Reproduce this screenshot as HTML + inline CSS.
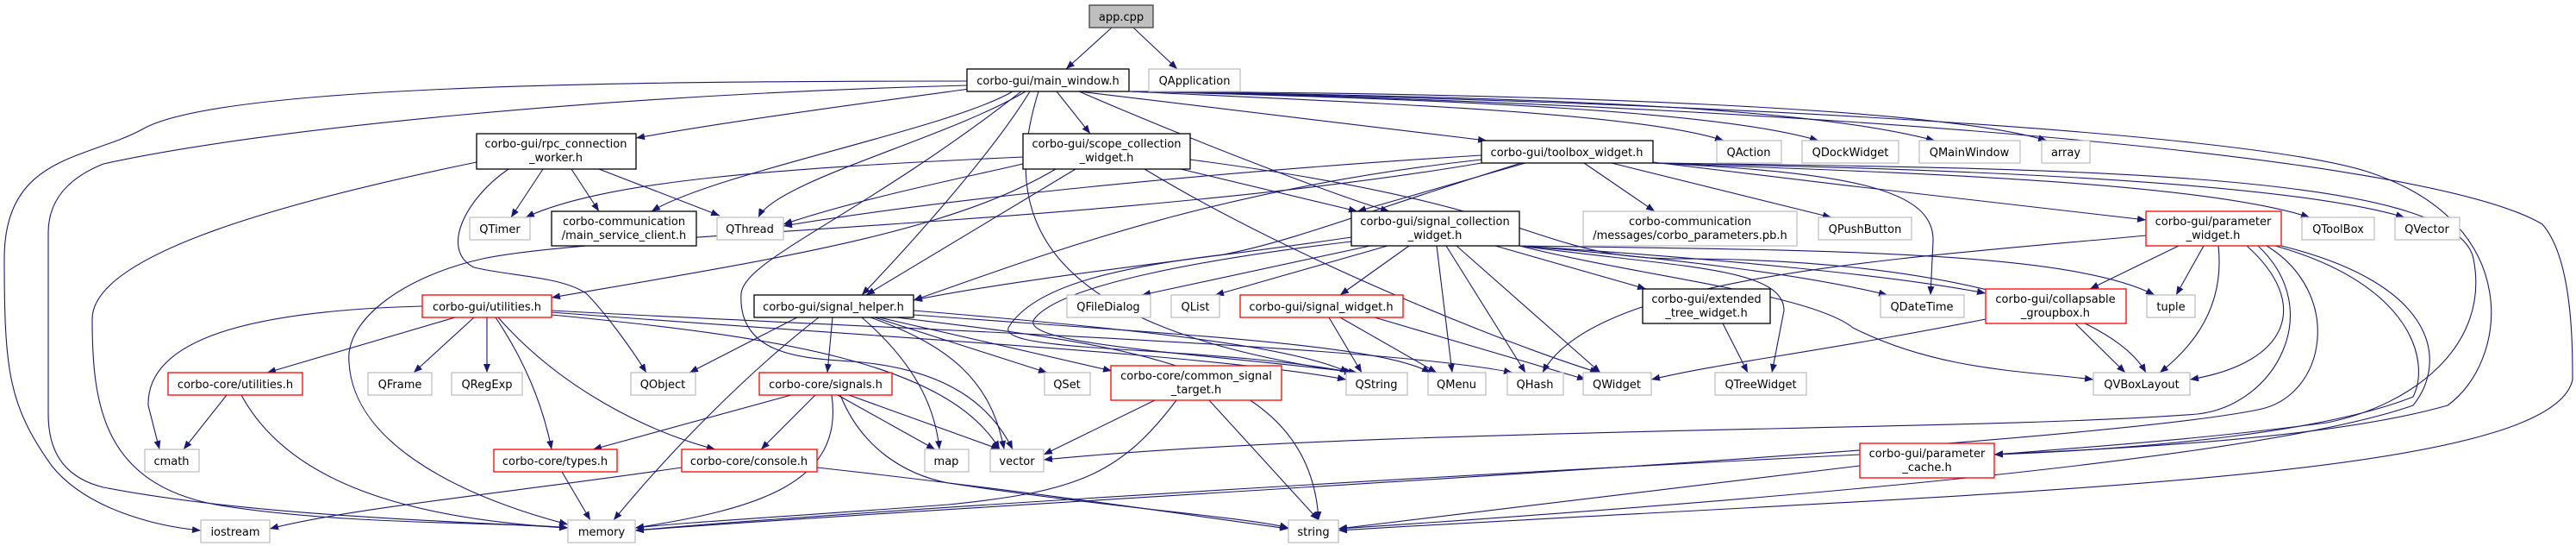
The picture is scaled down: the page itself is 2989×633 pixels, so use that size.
<!DOCTYPE html>
<html><head><meta charset="utf-8"><style>
html,body{margin:0;padding:0;background:#fff;}
svg{display:block;}
text{font-family:"DejaVu Sans","Liberation Sans",sans-serif;font-size:13px;fill:#000;text-anchor:middle;}
.e{fill:none;stroke:#191970;stroke-width:1.1;marker-end:url(#a);}
.g{fill:#fff;stroke:#bfbfbf;stroke-width:1.3;}
.b{fill:#fff;stroke:#000;stroke-width:1.3;}
.r{fill:#fff;stroke:#ff0000;stroke-width:1.3;}
</style></head><body>
<svg width="2989" height="633" viewBox="0 0 2989 633" xmlns="http://www.w3.org/2000/svg">
<defs><marker id="a" markerUnits="userSpaceOnUse" markerWidth="11" markerHeight="8" refX="10" refY="4" orient="auto"><path d="M0,0 L10,4 L0,8 z" fill="#191970"/></marker></defs>
<g>
<path class="e" d="M1290,32 L1237,80"/>
<path class="e" d="M1315,32 L1366,80"/>
<path class="e" d="M1125,103 C1000,120 850,140 738,160"/>
<path class="e" d="M1226,106 L1265,155"/>
<path class="e" d="M1252,106 L1725,163"/>
<path class="e" d="M1252,106 C1400,170 1560,230 1612,245"/>
<path class="e" d="M1195,106 C1150,180 1050,290 1000,342"/>
<path class="e" d="M1175,106 C1100,150 830,200 756,245"/>
<path class="e" d="M1190,106 C1100,160 900,210 880,252"/>
<path class="e" d="M1205,106 C1160,250 1200,380 1570,432"/>
<path class="e" d="M1185,106 C1000,250 865,300 860,340 C855,420 950,415 1000,420 C1100,430 1150,470 1175,521"/>
<path class="e" d="M1122,94 C700,94 250,100 165,150 C100,185 5,180 5,300 C5,430 10,470 60,540 C100,590 180,610 233,615"/>
<path class="e" d="M1122,99 C700,110 300,150 120,190 C70,210 56,240 56,270 L56,480 C56,530 80,555 120,565 C300,600 560,605 659,612"/>
<path class="e" d="M1310,106 C1600,120 1900,130 2000,163"/>
<path class="e" d="M1310,106 C1700,115 2000,130 2110,163"/>
<path class="e" d="M1310,106 C1800,112 2100,125 2245,163"/>
<path class="e" d="M1310,106 C1800,108 2250,125 2375,163"/>
<path class="e" d="M1310,106 C1900,115 2600,150 2750,200 C2930,260 2910,420 2840,470 C2700,510 2450,520 2314,527"/>
<path class="e" d="M1310,106 C1950,118 2800,170 2950,260 C2985,300 2985,400 2985,440 C2960,560 2300,570 1553,615"/>
<path class="e" d="M630,196 L593,252"/>
<path class="e" d="M663,196 L695,245"/>
<path class="e" d="M695,196 L835,250"/>
<path class="e" d="M590,196 C540,230 510,290 550,310 C590,320 650,320 680,340 C700,360 730,400 750,432"/>
<path class="e" d="M553,188 C300,240 107,300 107,370 C107,470 120,560 250,585 C400,610 600,605 659,612"/>
<path class="e" d="M1187,182 C900,195 700,210 610,252"/>
<path class="e" d="M1187,190 C1100,210 1000,230 909,260"/>
<path class="e" d="M1248,196 L1005,342"/>
<path class="e" d="M1225,196 C1100,270 900,300 640,345"/>
<path class="e" d="M1370,196 L1575,245"/>
<path class="e" d="M1328,196 C1500,300 1750,400 1855,432"/>
<path class="e" d="M1381,185 C1800,240 1780,300 1950,300 C2250,300 2450,360 2490,432"/>
<path class="e" d="M1838,189 L1920,245"/>
<path class="e" d="M1870,189 L2125,252"/>
<path class="e" d="M1918,188 C2100,210 2350,240 2490,255"/>
<path class="e" d="M1918,189 C2200,200 2550,210 2680,252"/>
<path class="e" d="M1918,189 C2250,195 2650,210 2790,252"/>
<path class="e" d="M1719,180 C1400,200 1100,230 909,262"/>
<path class="e" d="M1719,185 C1400,220 1200,300 1060,348"/>
<path class="e" d="M1770,189 L1575,245"/>
<path class="e" d="M1918,189 C2150,200 2245,220 2243,280 L2240,342"/>
<path class="e" d="M1765,189 C1600,240 1500,280 1420,295 C1300,310 1200,330 1170,380 C1160,410 1400,400 1570,432"/>
<path class="e" d="M1918,189 C2400,195 2850,200 2870,300 C2890,400 2800,470 2700,490 C2550,510 2400,520 2314,527"/>
<path class="e" d="M1719,189 C1300,260 700,270 560,300 C470,320 400,370 405,420 C410,520 550,580 659,608"/>
<path class="e" d="M1568,275 C1400,300 1200,320 1060,348"/>
<path class="e" d="M1590,285 L1325,342"/>
<path class="e" d="M1610,285 L1410,342"/>
<path class="e" d="M1635,285 L1555,342"/>
<path class="e" d="M1735,285 L1910,335"/>
<path class="e" d="M1568,280 C1400,300 1230,330 1200,370 C1180,400 1400,410 1575,432"/>
<path class="e" d="M1667,285 L1685,432"/>
<path class="e" d="M1678,285 L1770,432"/>
<path class="e" d="M1690,285 L1857,432"/>
<path class="e" d="M1763,285 C1950,300 2100,320 2190,342"/>
<path class="e" d="M1763,285 C2000,300 2200,320 2304,340"/>
<path class="e" d="M1763,285 C2100,290 2400,290 2500,342"/>
<path class="e" d="M1763,285 C1950,310 2070,310 2070,360 L2056,432"/>
<path class="e" d="M1763,285 C1900,320 2100,340 2150,380 C2250,430 2350,430 2429,440"/>
<path class="e" d="M925,368 L800,432"/>
<path class="e" d="M966,368 L960,432"/>
<path class="e" d="M950,368 C870,430 780,520 712,603"/>
<path class="e" d="M1000,368 C1060,420 1085,470 1090,521"/>
<path class="e" d="M1010,368 C1100,400 1150,440 1165,521"/>
<path class="e" d="M1015,368 L1215,432"/>
<path class="e" d="M1020,368 L1290,430"/>
<path class="e" d="M1060,360 C1300,380 1500,400 1565,432"/>
<path class="e" d="M1060,365 C1400,390 1600,400 1660,432"/>
<path class="e" d="M1040,368 C1300,400 1520,420 1530,603"/>
<path class="e" d="M490,355 C300,360 170,390 172,470 L185,521"/>
<path class="e" d="M528,368 L310,432"/>
<path class="e" d="M550,368 L480,432"/>
<path class="e" d="M565,368 L565,432"/>
<path class="e" d="M575,368 C610,420 630,470 640,521"/>
<path class="e" d="M578,368 C650,450 750,500 830,521"/>
<path class="e" d="M640,360 C1000,380 1600,400 1755,432"/>
<path class="e" d="M640,362 C1000,390 1400,410 1562,440"/>
<path class="e" d="M640,365 C900,390 1100,420 1160,521"/>
<path class="e" d="M263,458 L213,521"/>
<path class="e" d="M280,458 C330,550 450,600 659,612"/>
<path class="e" d="M918,458 L688,521"/>
<path class="e" d="M946,458 L883,521"/>
<path class="e" d="M972,458 L1085,521"/>
<path class="e" d="M985,458 L1160,521"/>
<path class="e" d="M965,458 C980,560 880,590 737,612"/>
<path class="e" d="M975,458 C1000,520 1050,550 1100,560 C1300,590 1450,600 1495,612"/>
<path class="e" d="M652,547 L685,603"/>
<path class="e" d="M791,542 C600,570 400,590 313,613"/>
<path class="e" d="M948,542 C1200,570 1400,600 1495,613"/>
<path class="e" d="M1340,464 L1211,527"/>
<path class="e" d="M1403,464 L1530,603"/>
<path class="e" d="M1365,464 C1300,550 1250,570 1100,585 C900,600 800,605 737,612"/>
<path class="e" d="M1542,368 L1580,432"/>
<path class="e" d="M1555,368 L1667,432"/>
<path class="e" d="M1595,368 L1840,440"/>
<path class="e" d="M1999,375 L2028,432"/>
<path class="e" d="M2304,370 C2100,410 2000,420 1916,440"/>
<path class="e" d="M2408,375 L2466,432"/>
<path class="e" d="M2528,285 L2425,335"/>
<path class="e" d="M2557,285 L2525,342"/>
<path class="e" d="M2574,285 C2580,340 2560,390 2506,432"/>
<path class="e" d="M2607,285 C2680,350 2660,420 2541,440"/>
<path class="e" d="M2490,273 C2200,300 1850,320 1790,432"/>
<path class="e" d="M2620,285 C2700,360 2640,470 2550,480 C2300,500 1600,495 1211,533"/>
<path class="e" d="M2640,285 C2800,330 2820,420 2800,460 C2700,500 2500,520 2314,527"/>
<path class="e" d="M2630,285 C2720,340 2700,460 2620,475 C2400,520 1200,580 737,615"/>
<path class="e" d="M2647,285 C2830,330 2840,420 2800,470 C2600,540 1900,590 1553,613"/>
<path class="e" d="M2158,527 C1500,560 900,600 737,615"/>
<path class="e" d="M2158,540 C1900,570 1650,600 1553,613"/>
</g>
<g>
<rect x="1264" y="6" width="74" height="26" fill="#bfbfbf" stroke="#404040" stroke-width="1.3"/><text x="1301" y="24">app.cpp</text>
<rect class="b" x="1122" y="80" width="188" height="26"/><text x="1216" y="98">corbo-gui/main_window.h</text>
<rect class="g" x="1333" y="80" width="106" height="26"/><text x="1386" y="98">QApplication</text>
<rect class="b" x="553" y="155" width="185" height="41"/><text x="645" y="171">corbo-gui/rpc_connection</text><text x="645" y="187">_worker.h</text>
<rect class="b" x="1187" y="155" width="194" height="41"/><text x="1284" y="171">corbo-gui/scope_collection</text><text x="1284" y="187">_widget.h</text>
<rect class="b" x="1719" y="163" width="199" height="26"/><text x="1818" y="181">corbo-gui/toolbox_widget.h</text>
<rect class="g" x="1992" y="163" width="75" height="26"/><text x="2029" y="181">QAction</text>
<rect class="g" x="2091" y="163" width="112" height="26"/><text x="2147" y="181">QDockWidget</text>
<rect class="g" x="2227" y="163" width="117" height="26"/><text x="2285" y="181">QMainWindow</text>
<rect class="g" x="2369" y="163" width="56" height="26"/><text x="2397" y="181">array</text>
<rect class="g" x="545" y="252" width="70" height="26"/><text x="580" y="270">QTimer</text>
<rect class="b" x="640" y="245" width="168" height="40"/><text x="724" y="261">corbo-communication</text><text x="724" y="277">/main_service_client.h</text>
<rect class="g" x="832" y="252" width="77" height="26"/><text x="870" y="270">QThread</text>
<rect class="b" x="1568" y="245" width="195" height="40"/><text x="1665" y="261">corbo-gui/signal_collection</text><text x="1665" y="277">_widget.h</text>
<rect class="g" x="1837" y="245" width="248" height="40"/><text x="1961" y="261">corbo-communication</text><text x="1961" y="277">/messages/corbo_parameters.pb.h</text>
<rect class="g" x="2110" y="252" width="108" height="26"/><text x="2164" y="270">QPushButton</text>
<rect class="r" x="2490" y="245" width="157" height="40"/><text x="2568" y="261">corbo-gui/parameter</text><text x="2568" y="277">_widget.h</text>
<rect class="g" x="2671" y="252" width="84" height="26"/><text x="2713" y="270">QToolBox</text>
<rect class="g" x="2779" y="252" width="75" height="26"/><text x="2816" y="270">QVector</text>
<rect class="r" x="490" y="342" width="150" height="26"/><text x="565" y="360">corbo-gui/utilities.h</text>
<rect class="b" x="875" y="342" width="185" height="26"/><text x="967" y="360">corbo-gui/signal_helper.h</text>
<rect class="g" x="1238" y="342" width="97" height="26"/><text x="1286" y="360">QFileDialog</text>
<rect class="g" x="1359" y="342" width="56" height="26"/><text x="1387" y="360">QList</text>
<rect class="r" x="1439" y="342" width="189" height="26"/><text x="1533" y="360">corbo-gui/signal_widget.h</text>
<rect class="b" x="1906" y="335" width="148" height="40" stroke="#404040"/><text x="1980" y="351">corbo-gui/extended</text><text x="1980" y="367">_tree_widget.h</text>
<rect class="g" x="2182" y="342" width="97" height="26"/><text x="2230" y="360">QDateTime</text>
<rect class="r" x="2304" y="335" width="163" height="40"/><text x="2385" y="351">corbo-gui/collapsable</text><text x="2385" y="367">_groupbox.h</text>
<rect class="g" x="2491" y="342" width="56" height="26"/><text x="2519" y="360">tuple</text>
<rect class="r" x="195" y="432" width="156" height="26"/><text x="273" y="450">corbo-core/utilities.h</text>
<rect class="g" x="427" y="432" width="74" height="26"/><text x="464" y="450">QFrame</text>
<rect class="g" x="524" y="432" width="82" height="26"/><text x="565" y="450">QRegExp</text>
<rect class="g" x="732" y="432" width="75" height="26"/><text x="769" y="450">QObject</text>
<rect class="r" x="881" y="432" width="154" height="26"/><text x="958" y="450">corbo-core/signals.h</text>
<rect class="g" x="1212" y="432" width="53" height="26"/><text x="1238" y="450">QSet</text>
<rect class="r" x="1289" y="424" width="198" height="40"/><text x="1388" y="440">corbo-core/common_signal</text><text x="1388" y="456">_target.h</text>
<rect class="g" x="1562" y="432" width="71" height="26"/><text x="1597" y="450">QString</text>
<rect class="g" x="1657" y="432" width="67" height="26"/><text x="1690" y="450">QMenu</text>
<rect class="g" x="1749" y="432" width="65" height="26"/><text x="1781" y="450">QHash</text>
<rect class="g" x="1837" y="432" width="79" height="26"/><text x="1876" y="450">QWidget</text>
<rect class="g" x="1990" y="432" width="106" height="26"/><text x="2043" y="450">QTreeWidget</text>
<rect class="g" x="2429" y="432" width="112" height="26"/><text x="2485" y="450">QVBoxLayout</text>
<rect class="g" x="168" y="521" width="63" height="26"/><text x="199" y="539">cmath</text>
<rect class="r" x="573" y="521" width="143" height="26"/><text x="644" y="539">corbo-core/types.h</text>
<rect class="r" x="791" y="521" width="157" height="26"/><text x="869" y="539">corbo-core/console.h</text>
<rect class="g" x="1073" y="521" width="51" height="26"/><text x="1098" y="539">map</text>
<rect class="g" x="1149" y="521" width="62" height="26"/><text x="1180" y="539">vector</text>
<rect class="r" x="2158" y="514" width="156" height="40"/><text x="2236" y="530">corbo-gui/parameter</text><text x="2236" y="546">_cache.h</text>
<rect class="g" x="233" y="603" width="80" height="26"/><text x="273" y="621">iostream</text>
<rect class="g" x="659" y="603" width="78" height="26"/><text x="698" y="621">memory</text>
<rect class="g" x="1495" y="603" width="58" height="26"/><text x="1524" y="621">string</text>
</g>
</svg>
</body></html>
